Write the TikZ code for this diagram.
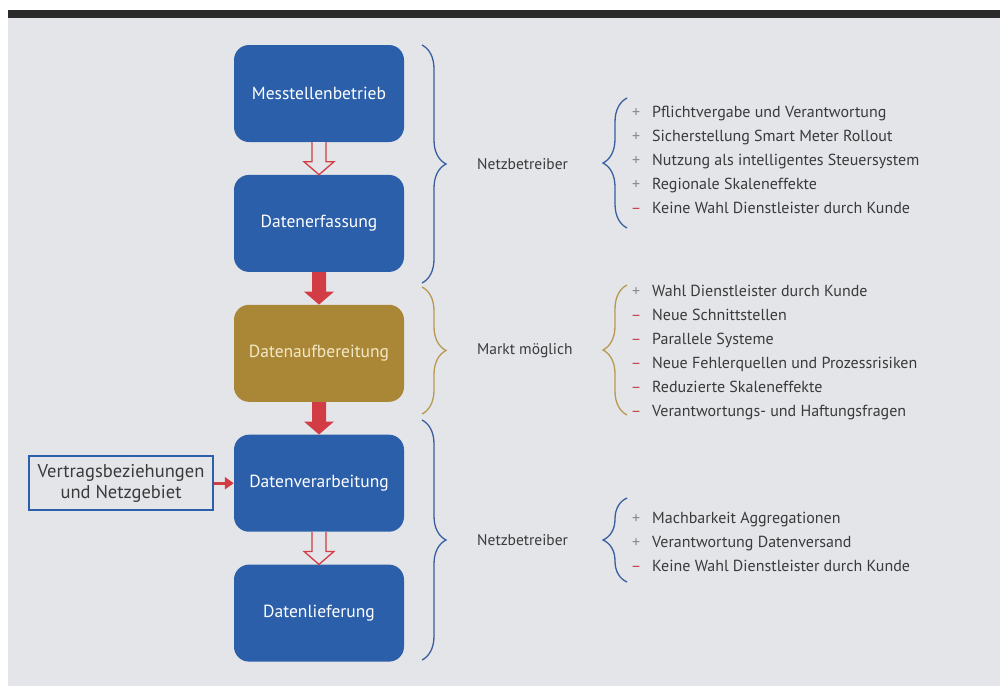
\documentclass[tikz,border=0pt]{standalone}
\usepackage{fontspec}
\setmainfont{PT Sans}
\usetikzlibrary{positioning, calc, decorations.pathreplacing, arrows.meta}

\definecolor{netzblau}{HTML}{2C5FAA}
\definecolor{marktgold}{HTML}{AA8737}
\definecolor{goldtext}{HTML}{F3E8C6}
\definecolor{pfeilrot}{HTML}{D23C44}
\definecolor{papier}{HTML}{E3E5E9}
\definecolor{schrift}{HTML}{3A3A3A}
\definecolor{plusgrau}{HTML}{8A8A8A}
\definecolor{minusrot}{HTML}{C8464C}
\definecolor{klammerblau}{HTML}{3A5F9E}
\definecolor{klammergold}{HTML}{B8994F}
\definecolor{balken}{HTML}{2B2B2B}

\newcommand{\plus}{\makebox[8pt]{\textcolor{plusgrau}{+}}}
\newcommand{\minus}{\makebox[8pt]{\textcolor{minusrot}{–}}}

% block arrow between two stages
\newcommand{\blockpfeil}[3]{%
  \path[#1] ($(#2.south)+(-7pt,0)$) -- ($(#3.north)+(-7pt,13pt)$)
    -- ($(#3.north)+(-15pt,13pt)$) -- (#3.north) -- ($(#3.north)+(15pt,13pt)$)
    -- ($(#3.north)+(7pt,13pt)$) -- ($(#2.south)+(7pt,0)$);}

\tikzset{
  stufe/.style={rounded corners=15pt, minimum width=170pt, minimum height=97pt,
    inner sep=0pt, text=white, font=\fontsize{17.5}{20}\selectfont},
  netz/.style={stufe, fill=netzblau},
  markt/.style={stufe, fill=marktgold, text=goldtext},
  quelle/.style={draw=netzblau, line width=1.5pt, fill=papier, minimum width=184pt,
    minimum height=54pt, inner sep=0pt, text=schrift, align=center,
    font=\fontsize{18.5}{21}\selectfont},
  hohl/.style={draw=pfeilrot, line width=1.3pt, fill=papier, line join=miter},
  voll/.style={fill=pfeilrot},
  klammer/.style={decorate, decoration={brace, amplitude=24pt}, line width=1.3pt},
  akteur/.style={anchor=west, text=schrift, inner sep=0pt, font=\fontsize{15.5}{18}\selectfont},
  liste/.style={anchor=west, text=schrift, inner sep=0pt, font=\fontsize{16}{24}\selectfont}
}

\begin{document}
\begin{tikzpicture}[node distance=32.5pt]
\useasboundingbox (0,0) rectangle (1000pt,-686pt);
\fill[papier] (8pt,-18pt) rectangle (1000pt,-686pt);
\fill[balken] (8pt,-10pt) rectangle (1000pt,-18pt);

% stages
\node[netz] (mess) at (319pt,-93.5pt) {Messtellenbetrieb};
\node[netz, below=of mess] (erf) {Datenerfassung};
\node[markt, below=of erf] (aufb) {Datenaufbereitung};
\node[netz, below=of aufb] (verarb) {Datenverarbeitung};
\node[netz, below=of verarb] (lief) {Datenlieferung};
\node[quelle, left=20pt of verarb] (vertr) {Vertragsbeziehungen\\und Netzgebiet};

\blockpfeil{hohl}{mess}{erf}
\blockpfeil{voll}{erf}{aufb}
\blockpfeil{voll}{aufb}{verarb}
\blockpfeil{hohl}{verarb}{lief}
\draw[pfeilrot, line width=3pt, -{Triangle[length=9pt, width=12pt]}] (vertr) -- (verarb);

% braces on the stages
\draw[klammer, klammerblau] (422pt,-45pt) -- (422pt,-283pt);
\draw[klammer, klammergold] (422pt,-287pt) -- (422pt,-414pt);
\draw[klammer, klammerblau] (422pt,-420pt) -- (422pt,-660pt);

\node[akteur] (nb1) at (477pt,-164pt) {Netzbetreiber};
\node[akteur] (mm) at (477pt,-350.5pt) {Markt möglich};
\node[akteur] (nb2) at (477pt,-540pt) {Netzbetreiber};

% pros and cons
\draw[klammer, klammerblau] (627pt,-228pt) -- (627pt,-98pt);
\draw[klammer, klammergold] (627pt,-415pt) -- (627pt,-285pt);
\draw[klammer, klammerblau] (627pt,-582pt) -- (627pt,-498pt);

\node[liste] (argnb1) at (632pt,-161pt) {%
  \begin{tabular}{@{}l@{\hspace{12pt}}l@{}}
  \plus & Pflichtvergabe und Verantwortung\\
  \plus & Sicherstellung Smart Meter Rollout\\
  \plus & Nutzung als intelligentes Steuersystem\\
  \plus & Regionale Skaleneffekte\\
  \minus & Keine Wahl Dienstleister durch Kunde
  \end{tabular}};
\node[liste] (argmm) at (632pt,-352pt) {%
  \begin{tabular}{@{}l@{\hspace{12pt}}l@{}}
  \plus & Wahl Dienstleister durch Kunde\\
  \minus & Neue Schnittstellen\\
  \minus & Parallele Systeme\\
  \minus & Neue Fehlerquellen und Prozessrisiken\\
  \minus & Reduzierte Skaleneffekte\\
  \minus & Verantwortungs- und Haftungsfragen
  \end{tabular}};
\node[liste] (argnb2) at (632pt,-543pt) {%
  \begin{tabular}{@{}l@{\hspace{12pt}}l@{}}
  \plus & Machbarkeit Aggregationen\\
  \plus & Verantwortung Datenversand\\
  \minus & Keine Wahl Dienstleister durch Kunde
  \end{tabular}};
\end{tikzpicture}
\end{document}
